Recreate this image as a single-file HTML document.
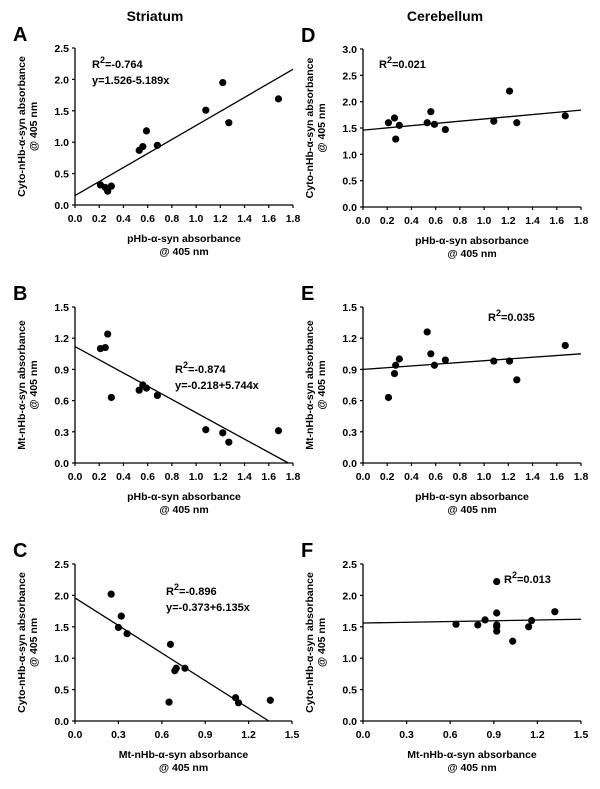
<!DOCTYPE html>
<html><head><meta charset="utf-8"><style>
body{margin:0;background:#fff}
svg text{font-family:"Liberation Sans",Arial,sans-serif;font-weight:bold;fill:#000}
</style></head><body>
<svg id="fig" width="600" height="784" viewBox="0 0 600 784" xmlns="http://www.w3.org/2000/svg">
<text x="155" y="21" font-size="14" text-anchor="middle">Striatum</text>
<text x="445" y="21" font-size="14" text-anchor="middle">Cerebellum</text>
</svg>
<script>
const pHbX = [0.21,0.25,0.27,0.30,0.53,0.56,0.59,0.68,1.08,1.22,1.27,1.68];
const aY = [0.32,0.28,0.22,0.30,0.87,0.93,1.18,0.95,1.51,1.95,1.31,1.69];
const bY = [1.10,1.11,1.24,0.63,0.70,0.75,0.72,0.65,0.32,0.29,0.20,0.31];
const cX = [0.25,0.30,0.32,0.36,0.66,0.65,0.69,0.70,0.76,1.11,1.13,1.35];
const cY = [2.02,1.49,1.67,1.39,1.22,0.30,0.80,0.84,0.84,0.37,0.29,0.33];
const dX = [0.21,0.26,0.27,0.30,0.53,0.56,0.59,0.68,1.08,1.21,1.27,1.67];
const dY = [1.60,1.69,1.29,1.55,1.60,1.81,1.57,1.47,1.63,2.20,1.60,1.73];
const eY = [0.63,0.86,0.94,1.00,1.26,1.05,0.94,0.99,0.98,0.98,0.80,1.13];
const fX = [0.64,0.79,0.84,0.92,0.92,0.92,0.92,0.92,1.03,1.14,1.16,1.32];
const fY = [1.54,1.53,1.61,2.22,1.72,1.53,1.50,1.43,1.27,1.50,1.60,1.74];
const ticksX18 = ["0.0","0.2","0.4","0.6","0.8","1.0","1.2","1.4","1.6","1.8"];
const ticksX15 = ["0.0","0.3","0.6","0.9","1.2","1.5"];
const ticksY25 = ["0.0","0.5","1.0","1.5","2.0","2.5"];
const ticksY30 = ["0.0","0.5","1.0","1.5","2.0","2.5","3.0"];
const ticksY15 = ["0.0","0.3","0.6","0.9","1.2","1.5"];
const fitA = [0.15,2.16], fitB = [1.12,-0.025], fitC = [1.96,-0.235];
const fitD = [1.46,1.84], fitE = [0.90,1.05], fitF = [1.56,1.62];

const svg = document.getElementById('fig');
const NS = 'http://www.w3.org/2000/svg';
function mk(tag, attrs, parent){const e=document.createElementNS(NS,tag);for(const k in attrs)e.setAttribute(k,attrs[k]);(parent||svg).appendChild(e);return e;}

function panel(p){
  const g = mk('g',{});
  
  
  const xmax = parseFloat(p.xt[p.xt.length-1]), ymax = parseFloat(p.yt[p.yt.length-1]);
  const sx = v => p.L + v/xmax*(p.R-p.L);
  const sy = v => p.B - v/ymax*(p.B-p.T);
  const lt = mk('text',{x:p.L-62,y:p.T-7,'font-size':20},g); lt.textContent=p.id;
  
  
  const ax = mk('path',{d:`M${p.L},${p.T}V${p.B}H${p.R}`,stroke:'#000','stroke-width':1.3,fill:'none'},g);
  
  
  p.xt.forEach(t=>{const x=sx(parseFloat(t));
    mk('line',{x1:x,x2:x,y1:p.B,y2:p.B+3,stroke:'#000','stroke-width':1.2},g);
    const tx=mk('text',{x:x,y:p.B+17,'font-size':10.5,'text-anchor':'middle'},g);tx.textContent=t;
    
    });
  p.yt.forEach(t=>{const y=sy(parseFloat(t));
    mk('line',{x1:p.L-3,x2:p.L,y1:y,y2:y,stroke:'#000','stroke-width':1.2},g);
    const tx=mk('text',{x:p.L-6,y:y+4,'font-size':10.5,'text-anchor':'end'},g);tx.textContent=t;
    
    });
  const cx=(p.L+p.R)/2;
  const xt1=mk('text',{x:cx,y:p.B+37,'font-size':10.5,'text-anchor':'middle'},g);xt1.textContent=p.xl;
  
  
  const xt2=mk('text',{x:cx,y:p.B+50,'font-size':10.5,'text-anchor':'middle'},g);xt2.textContent='@ 405 nm';
  
  
  const cy=(p.T+p.B)/2, yx=p.L-50;
  const yt1=mk('text',{x:yx,y:cy,'font-size':10.5,'text-anchor':'middle',transform:`rotate(-90 ${yx} ${cy})`},g);yt1.textContent=p.yl;
  
  
  const yt2=mk('text',{x:yx+12,y:cy,'font-size':10.5,'text-anchor':'middle',transform:`rotate(-90 ${yx+12} ${cy})`},g);yt2.textContent='@ 405 nm';
  
  
  let x2=xmax, y2=p.fit[1];
  if (y2<0){ x2 = xmax*p.fit[0]/(p.fit[0]-p.fit[1]); y2=0; }
  const fl=mk('line',{x1:sx(0),y1:sy(p.fit[0]),x2:sx(x2),y2:sy(y2),stroke:'#000','stroke-width':1.3},g);
  
  
  p.x.forEach((v,i)=>{const c=mk('circle',{cx:sx(v),cy:sy(p.y[i]),r:3.6,fill:'#000'},g);
    
    });
  const r=mk('text',{x:p.tx,y:p.ty,'font-size':11},g);
  r.innerHTML='R<tspan dy="-5" font-size="9">2</tspan><tspan dy="5">'+p.r2+'</tspan>';
  
  
  if(p.eq){const e=mk('text',{x:p.tx,y:p.ty+16,'font-size':11},g);e.textContent=p.eq;
    
    }
}
const pX='pHb-\u03b1-syn absorbance', mtX='Mt-nHb-\u03b1-syn absorbance';
const cyY='Cyto-nHb-\u03b1-syn absorbance', mtY='Mt-nHb-\u03b1-syn absorbance';
panel({id:'A',L:75,R:293,T:48,B:205,x:pHbX,y:aY,xt:ticksX18,yt:ticksY25,fit:fitA,xl:pX,yl:cyY,tx:92,ty:68,r2:'=-0.764',eq:'y=1.526-5.189x'});
panel({id:'B',L:75,R:293,T:307,B:463,x:pHbX,y:bY,xt:ticksX18,yt:ticksY15,fit:fitB,xl:pX,yl:mtY,tx:175,ty:373,r2:'=-0.874',eq:'y=-0.218+5.744x'});
panel({id:'C',L:75,R:292,T:564,B:721,x:cX,y:cY,xt:ticksX15,yt:ticksY25,fit:fitC,xl:mtX,yl:cyY,tx:166,ty:595,r2:'=-0.896',eq:'y=-0.373+6.135x'});
panel({id:'D',L:363,R:581,T:49,B:207,x:dX,y:dY,xt:ticksX18,yt:ticksY30,fit:fitD,xl:pX,yl:cyY,tx:379,ty:68,r2:'=0.021'});
panel({id:'E',L:363,R:581,T:307,B:463,x:dX,y:eY,xt:ticksX18,yt:ticksY15,fit:fitE,xl:pX,yl:mtY,tx:488,ty:321,r2:'=0.035'});
panel({id:'F',L:363,R:581,T:564,B:721,x:fX,y:fY,xt:ticksX15,yt:ticksY25,fit:fitF,xl:mtX,yl:cyY,tx:504,ty:583,r2:'=0.013'});
</script>
</body></html>
